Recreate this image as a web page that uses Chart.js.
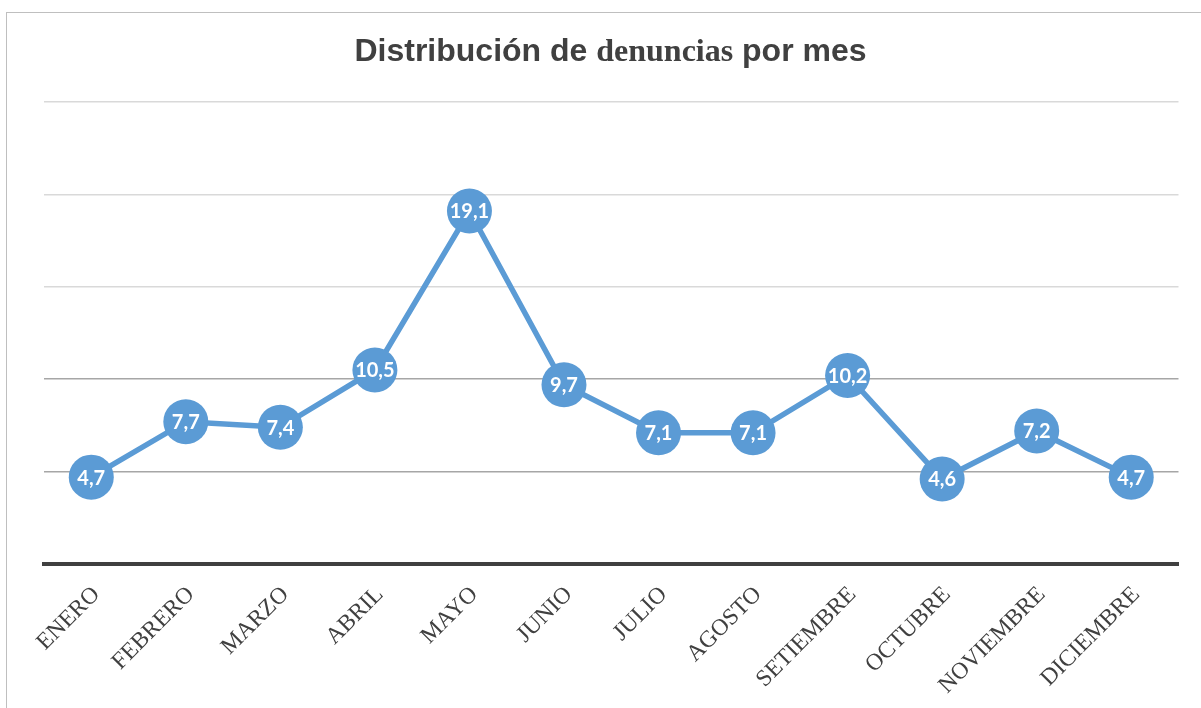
<!DOCTYPE html>
<html>
<head>
<meta charset="utf-8">
<script src="https://cdn.jsdelivr.net/npm/chart.js@4.4.0/dist/chart.umd.min.js"></script>
<style>
    body { margin: 0; background: #ffffff; }
    #wrap { position: relative; width: 1201px; height: 708px; overflow: hidden; }
    #frame { position: absolute; left: 6px; top: 12px; width: 1300px; height: 800px; border: 1px solid #bfbfbf; }
    #title {
        position: absolute; left: 10px; top: 34px; width: 1201px; text-align: center;
        font: bold 32px "Liberation Sans", Arial, sans-serif; line-height: 32px; color: #404040;
    }
    #title .serif { font-family: "Liberation Serif", "Times New Roman", serif; }
    #chartBox { position: absolute; left: 0; top: 0; width: 1201px; height: 708px; }
</style>
</head>
<body>
<div id="wrap">
    <div id="frame"></div>
    <div id="chartBox"><canvas id="lineChart"></canvas></div>
    <div id="title">Distribución de <span class="serif">denuncias</span> por mes</div>
</div>
<script>
const months = ['ENERO', 'FEBRERO', 'MARZO', 'ABRIL', 'MAYO', 'JUNIO', 'JULIO', 'AGOSTO', 'SETIEMBRE', 'OCTUBRE', 'NOVIEMBRE', 'DICIEMBRE'];
const denuncias = [4.7, 7.7, 7.4, 10.5, 19.1, 9.7, 7.1, 7.1, 10.2, 4.6, 7.2, 4.7];
const yTicks = [0, 5, 10, 15, 20, 25];

// Draw the value inside each point (decimal comma)
const valueLabels = {
    id: 'valueLabels',
    afterDatasetsDraw(chart) {
        const ctx = chart.ctx;
        const meta = chart.getDatasetMeta(0);
        ctx.save();
        ctx.fillStyle = '#ffffff';
        ctx.font = 'bold 20px Lato, sans-serif';
        ctx.textAlign = 'center';
        ctx.textBaseline = 'middle';
        meta.data.forEach((pt, i) => {
            const txt = denuncias[i].toFixed(1).replace('.', ',');
            ctx.fillText(txt, pt.x, pt.y + 1);
        });
        ctx.restore();
    }
};

const ctx = document.getElementById('lineChart').getContext('2d');
new Chart(ctx, {
    type: 'line',
    data: {
        labels: months,
        datasets: [{
            label: 'Denuncias',
            data: denuncias,
            borderColor: '#5b9bd5',
            backgroundColor: '#5b9bd5',
            borderWidth: 5.5,
            pointRadius: 22.5,
            pointHoverRadius: 22.5,
            pointBorderWidth: 0,
            pointBackgroundColor: '#5b9bd5',
            tension: 0
        }]
    },
    options: {
        responsive: true,
        maintainAspectRatio: false,
        animation: false,
        events: [],
        layout: {
            padding: { left: 44, right: 17, top: 102, bottom: 0 }
        },
        plugins: {
            legend: { display: false },
            title: { display: false },
            tooltip: { enabled: false }
        },
        scales: {
            x: {
                offset: true,
                grid: { display: false, drawTicks: false },
                border: { display: true, color: '#404040', width: 4 },
                ticks: {
                    color: '#404040',
                    font: { family: '"Liberation Serif", "Times New Roman", serif', size: 23.5 },
                    minRotation: 45,
                    maxRotation: 45,
                    padding: 17,
                    labelOffset: 5,
                    autoSkip: false
                },
                afterFit(scale) { scale.height = 708 - 564; }
            },
            y: {
                min: yTicks[0],
                max: yTicks[yTicks.length - 1],
                afterBuildTicks(scale) { scale.ticks = yTicks.map(v => ({ value: v })); },
                grid: {
                    drawTicks: false,
                    lineWidth: 1.5,
                    color: (c) => {
                        const v = c.tick ? c.tick.value : 0;
                        if (v === 0) return 'rgba(0,0,0,0)';
                        return v <= 10 ? '#a6a6a6' : '#d9d9d9';
                    }
                },
                border: { display: false },
                ticks: { display: false },
                afterFit(scale) { scale.width = 0; }
            }
        }
    },
    plugins: [valueLabels]
});
</script>
</body>
</html>
